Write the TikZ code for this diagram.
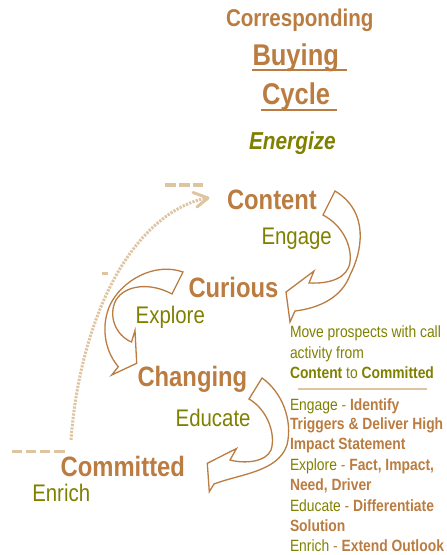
\documentclass[tikz,border=0pt]{standalone}
\usepackage{fontspec}
\setmainfont{Liberation Sans}[FakeStretch=0.85]
\definecolor{brn}{RGB}{186,124,64}
\definecolor{olv}{RGB}{128,128,0}
\definecolor{tanc}{RGB}{222,196,160}
\newcommand{\fsz}[1]{\fontsize{#1}{#1}\selectfont}
\newcommand{\myol}[1]{\textcolor{olv}{#1}}
\newcommand{\mybr}[1]{\textcolor{brn}{\bfseries #1}}
\begin{document}
\begin{tikzpicture}[x=1pt,y=-1pt,
  lbl/.style={anchor=base west, inner sep=0pt, outer sep=0pt},
  stage/.style={lbl, text=brn, font=\fsz{28}\bfseries},
  act/.style={lbl, text=olv, font=\fsz{24}},
  info/.style={lbl, font=\fsz{16.3}},
  barrow/.style={draw=brn, line width=1.3pt, fill=white, line join=miter},
  tandash/.style={draw=tanc, line width=3.5pt},
  uline/.style={draw=brn, line width=2.5pt},
]
\useasboundingbox (0,0) rectangle (447,555);

% title
\node[lbl, text=brn, font=\fsz{24.2}\bfseries] (t1) at (226,26.7) {Corresponding};
\node[lbl, text=brn, font=\fsz{30}\bfseries] (t2) at (252.5,65) {Buying};
\node[lbl, text=brn, font=\fsz{30}\bfseries] (t3) at (262,104) {Cycle};
\draw[uline] (252,70) -- (346.7,70);
\draw[uline] (261,110) -- (336.7,110);
\node[lbl, text=olv, font=\fsz{24.5}\bfseries\itshape] (en) at (249,149.3) {Energize};

% dotted return arrow
\coordinate (ds) at (71,440);
\coordinate (de) at (206,198);
\draw[tanc, line width=3pt, dash pattern=on 2.2pt off 1.3pt] (ds) .. controls (80,320) and (130,215) .. (de);
\draw[tanc, line width=3pt, line cap=round, line join=round] (193,192.5) -- (208,198) -- (197,207);

% dashes
\draw[tandash, dash pattern=on 11pt off 3.2pt] (165,185) -- (203,185);
\draw[tandash] (102,273.5) -- (108,273.5);
\draw[tandash, dash pattern=on 10.5pt off 3.6pt] (11.7,451.7) -- (65,451.7);

% block arrows
\draw[barrow] (335,191) -- (323,215)
  .. controls (342,225) and (352,245) .. (350,262)
  .. controls (348,278) and (330,284) .. (309,283)
  -- (314,271) -- (286,292) -- (290,322) -- (295,311)
  .. controls (320,308) and (342,297) .. (350,275)
  .. controls (362,252) and (370,212) .. (335,191) -- cycle;

\draw[barrow] (183,272) -- (172,294)
  .. controls (150,282) and (125,285) .. (116,300)
  .. controls (108,315) and (115,335) .. (131.5,342)
  -- (135,330.5) -- (136.7,363.3) -- (111.7,375) -- (118.3,366.7)
  .. controls (104,350) and (101,325) .. (110,305)
  .. controls (122,280) and (155,262) .. (183,272) -- cycle;

\draw[barrow] (262,378) -- (249,399)
  .. controls (268,410) and (276,435) .. (271,450)
  .. controls (266,462) and (245,464) .. (230,460)
  -- (236.5,448.5) -- (207.3,463.3) -- (209.3,491.7) -- (214,484)
  .. controls (240,474) and (278,472) .. (287,445)
  .. controls (293,420) and (282,392) .. (262,378) -- cycle;

% stages
\node[stage] (content) at (227,209.3) {Content};
\node[act] (engage) at (261.5,244) {Engage};
\node[stage] (curious) at (188.5,297.7) {Curious};
\node[act] (explore) at (135.7,323.3) {Explore};
\node[stage] (changing) at (137.5,386) {Changing};
\node[act] (educate) at (175.7,426) {Educate};
\node[stage] (committed) at (60.7,476) {Committed};
\node[act] (enrich) at (32.3,501.7) {Enrich};

% info block
\node[info] (i1) at (290,337.5) {\myol{Move prospects with call}};
\node[info] (i2) at (290,358.5) {\myol{activity from}};
\node[info] (i3) at (290,378.3) {\myol{\bfseries Content} \myol{to} \myol{\bfseries Committed}};
\draw[tanc, line width=1.5pt] (298,389) -- (426.7,389);
\node[info] (i4) at (290,410) {\myol{Engage} \textcolor{brn}{-} \mybr{Identify}};
\node[info] (i5) at (290,429.3) {\mybr{Triggers \& Deliver High}};
\node[info] (i6) at (290,449.3) {\mybr{Impact Statement}};
\node[info] (i7) at (290,470) {\myol{Explore} \textcolor{brn}{-} \mybr{Fact, Impact,}};
\node[info] (i8) at (290,490) {\mybr{Need, Driver}};
\node[info] (i9) at (290,511) {\myol{Educate} \textcolor{brn}{-} \mybr{Differentiate}};
\node[info] (i10) at (290,531) {\mybr{Solution}};
\node[info] (i11) at (290,551) {\myol{Enrich} \textcolor{brn}{-} \mybr{Extend Outlook}};
\end{tikzpicture}
\end{document}
